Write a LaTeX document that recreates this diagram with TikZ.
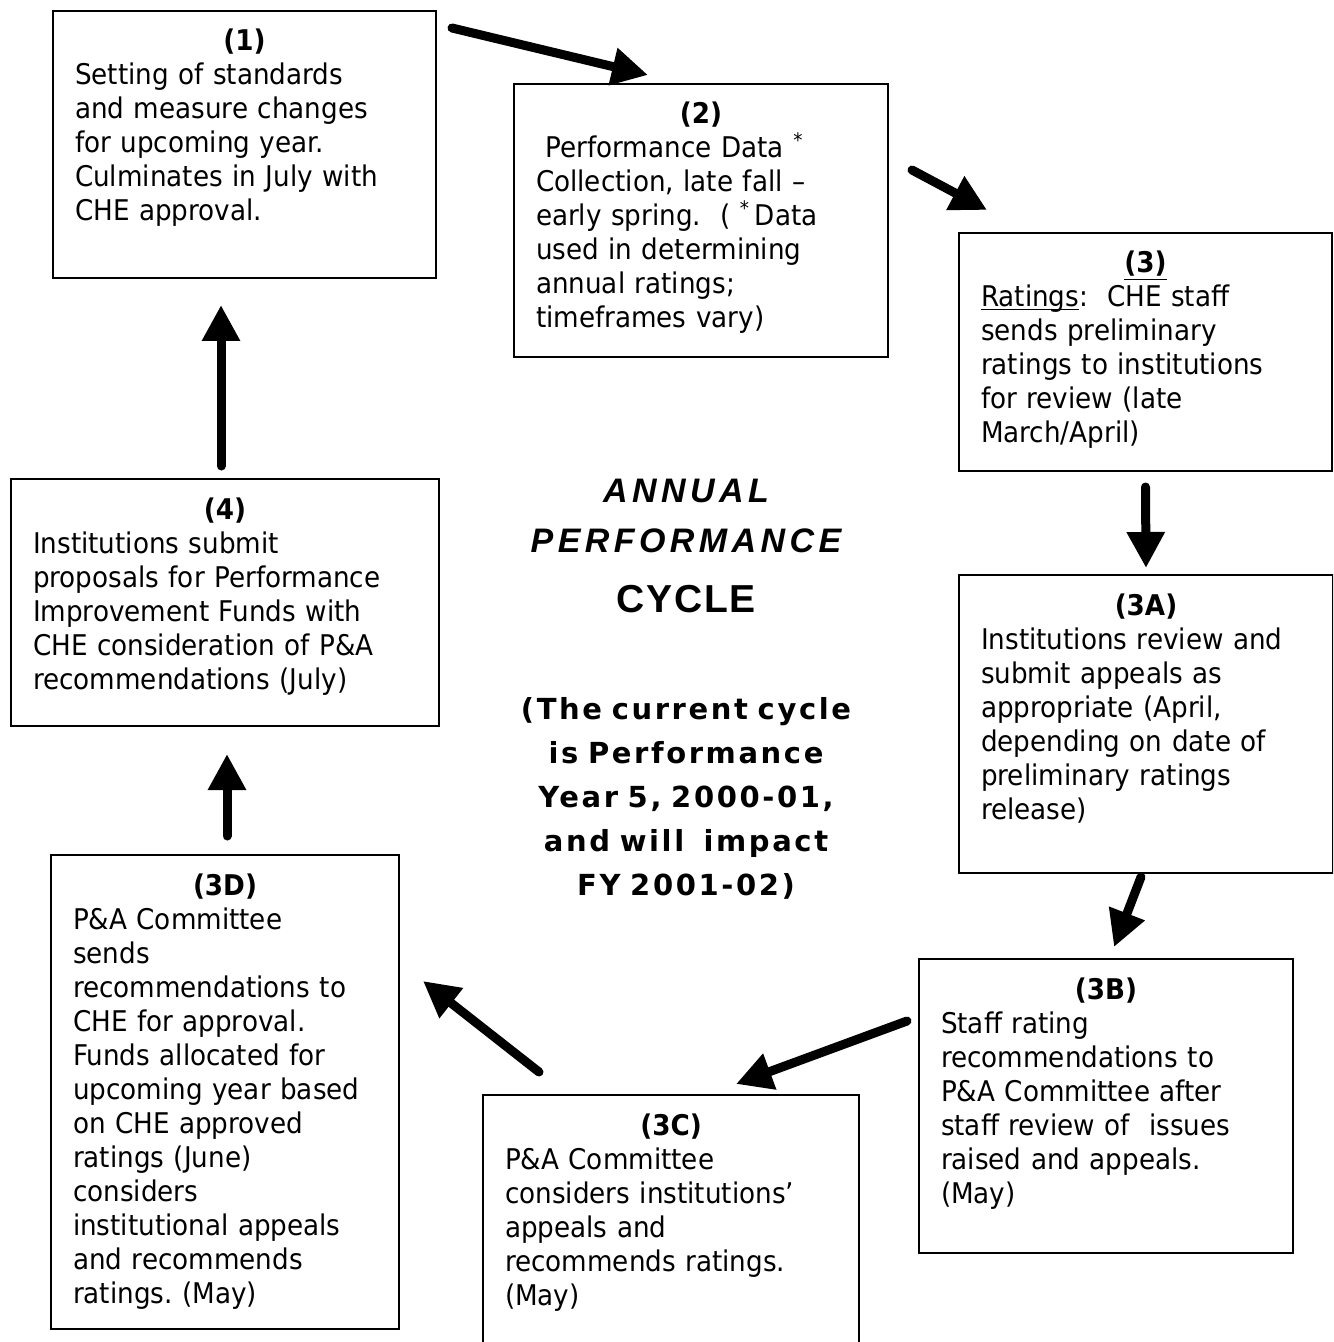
\documentclass[tikz,border=0pt]{standalone}
\usepackage{fontspec}
\setmainfont{DejaVu Sans}[FakeStretch=0.92]
\newfontfamily\titlefont{Liberation Sans}[LetterSpace=13]
\newfontfamily\cyclefont{Liberation Sans}[LetterSpace=5]
\newfontfamily\notefont{DejaVu Sans}[LetterSpace=9, WordSpace=1.4]
\usepackage{tikz}
\usetikzlibrary{arrows.meta,calc}
\frenchspacing

\begin{document}
\begin{tikzpicture}[
  x=0.5pt, y=-0.5pt,
  stagebox/.style={rectangle, draw, line width=1pt, anchor=north west, inner xsep=11pt, inner ysep=0pt, align=left, text height=20pt, font=\fontsize{14.25}{17}\selectfont},
  titletext/.style={anchor=base, text width=220pt, align=center, font=\titlefont\bfseries\fontsize{17}{25}\selectfont},
  notetext/.style={anchor=base, text width=220pt, align=center, font=\notefont\bfseries\fontsize{14.5}{22}\selectfont},
  flow/.style={line width=4.5pt, line cap=round, -{Triangle[length=18pt,width=18pt]}},
]
\useasboundingbox (0,0) rectangle (1333,1342);
\clip (0,0) rectangle (1333,1342);

% Nodes
\node[stagebox, text width=169.5pt, text depth=113.5pt] (setting) at (52,10)
  {{\centering\bfseries (1)\par}Setting of standards\\ and measure changes\\ for upcoming year.\\ Culminates in July with\\ CHE approval.};
\node[stagebox, text width=165pt, text depth=116.5pt] (collection) at (513,83)
  {{\centering\bfseries (2)\par}\ Performance Data \textsuperscript{*}\\ Collection, late fall --\\ early spring.\ \ (\ \textsuperscript{*}\,Data\\ used in determining\\ annual ratings;\\ timeframes vary)};
\node[stagebox, text width=164.5pt, text depth=99pt] (ratings) at (958,232)
  {{\centering\bfseries \underline{(3)}\par}\underline{\smash{Ratings}}:\ \ CHE staff\\ sends preliminary\\ ratings to institutions\\ for review (late\\ March/April)};
\node[stagebox, text width=165pt, text depth=129pt] (appeals) at (958,574)
  {{\centering\bfseries (3A)\par}Institutions review and\\ submit appeals as\\ appropriate (April,\\ depending on date of\\ preliminary ratings\\ release)};
\node[stagebox, text width=165pt, text depth=127pt] (staffreview) at (918,958)
  {{\centering\bfseries (3B)\par}Staff rating\\ recommendations to\\ P\&A Committee after\\ staff review of\ \ issues\\ raised and appeals.\\ (May)};
\node[stagebox, text width=166pt, text depth=110pt] (committee) at (482,1094)
  {{\centering\bfseries (3C)\par}P\&A Committee\\ considers institutions’\\ appeals and\\ recommends ratings.\\ (May)};
\node[stagebox, text width=152pt, text depth=217pt] (approval) at (50,854)
  {{\centering\bfseries (3D)\par}P\&A Committee\\ sends\\ recommendations to\\ CHE for approval.\\ Funds allocated for\\ upcoming year based\\ on CHE approved\\ ratings (June)\\ considers\\ institutional appeals\\ and recommends\\ ratings. (May)};
\node[stagebox, text width=192pt, text depth=103.5pt] (proposals) at (10,478)
  {{\centering\bfseries (4)\par}Institutions submit\\ proposals for Performance\\ Improvement Funds with\\ CHE consideration of P\&A\\ recommendations (July)};

% Centre text
\node[titletext] (title) at (686,502)
  {\itshape ANNUAL\\ PERFORMANCE\\[5pt] {\cyclefont\upshape\fontsize{19.5}{25}\selectfont CYCLE}};
\node[notetext] (note) at (686,719)
  {(The current cycle\\ is Performance\\ Year 5, 2000-01,\\ and will\ \ impact\\ FY 2001-02)};

% Lines
\draw[flow] ($(setting.north east)+(15,18)$) -- ($(collection.north)+(-53,-8)$);
\draw[flow] ($(collection.north east)+(23,87)$) -- ($(ratings.north west)+(29,-22)$);
\draw[flow] ($(ratings.south)+(0,15)$) -- ($(appeals.north)+(0,-6)$);
\draw[flow] ($(appeals.south)+(-5,3)$) -- ($(staffreview.north)+(8,-11)$);
\draw[flow] ($(staffreview.north west)+(-11,63)$) -- ($(committee.north east)+(-124,-10)$);
\draw[flow] ($(committee.north west)+(57,-22)$) -- ($(approval.north east)+(23,127)$);
\draw[flow] ($(approval.north)+(2,-18)$) -- ($(proposals.south)+(2,27)$);
\draw[flow] ($(proposals.north)+(-4,-12)$) -- ($(setting.south)+(-23.5,26)$);

\end{tikzpicture}
\end{document}
